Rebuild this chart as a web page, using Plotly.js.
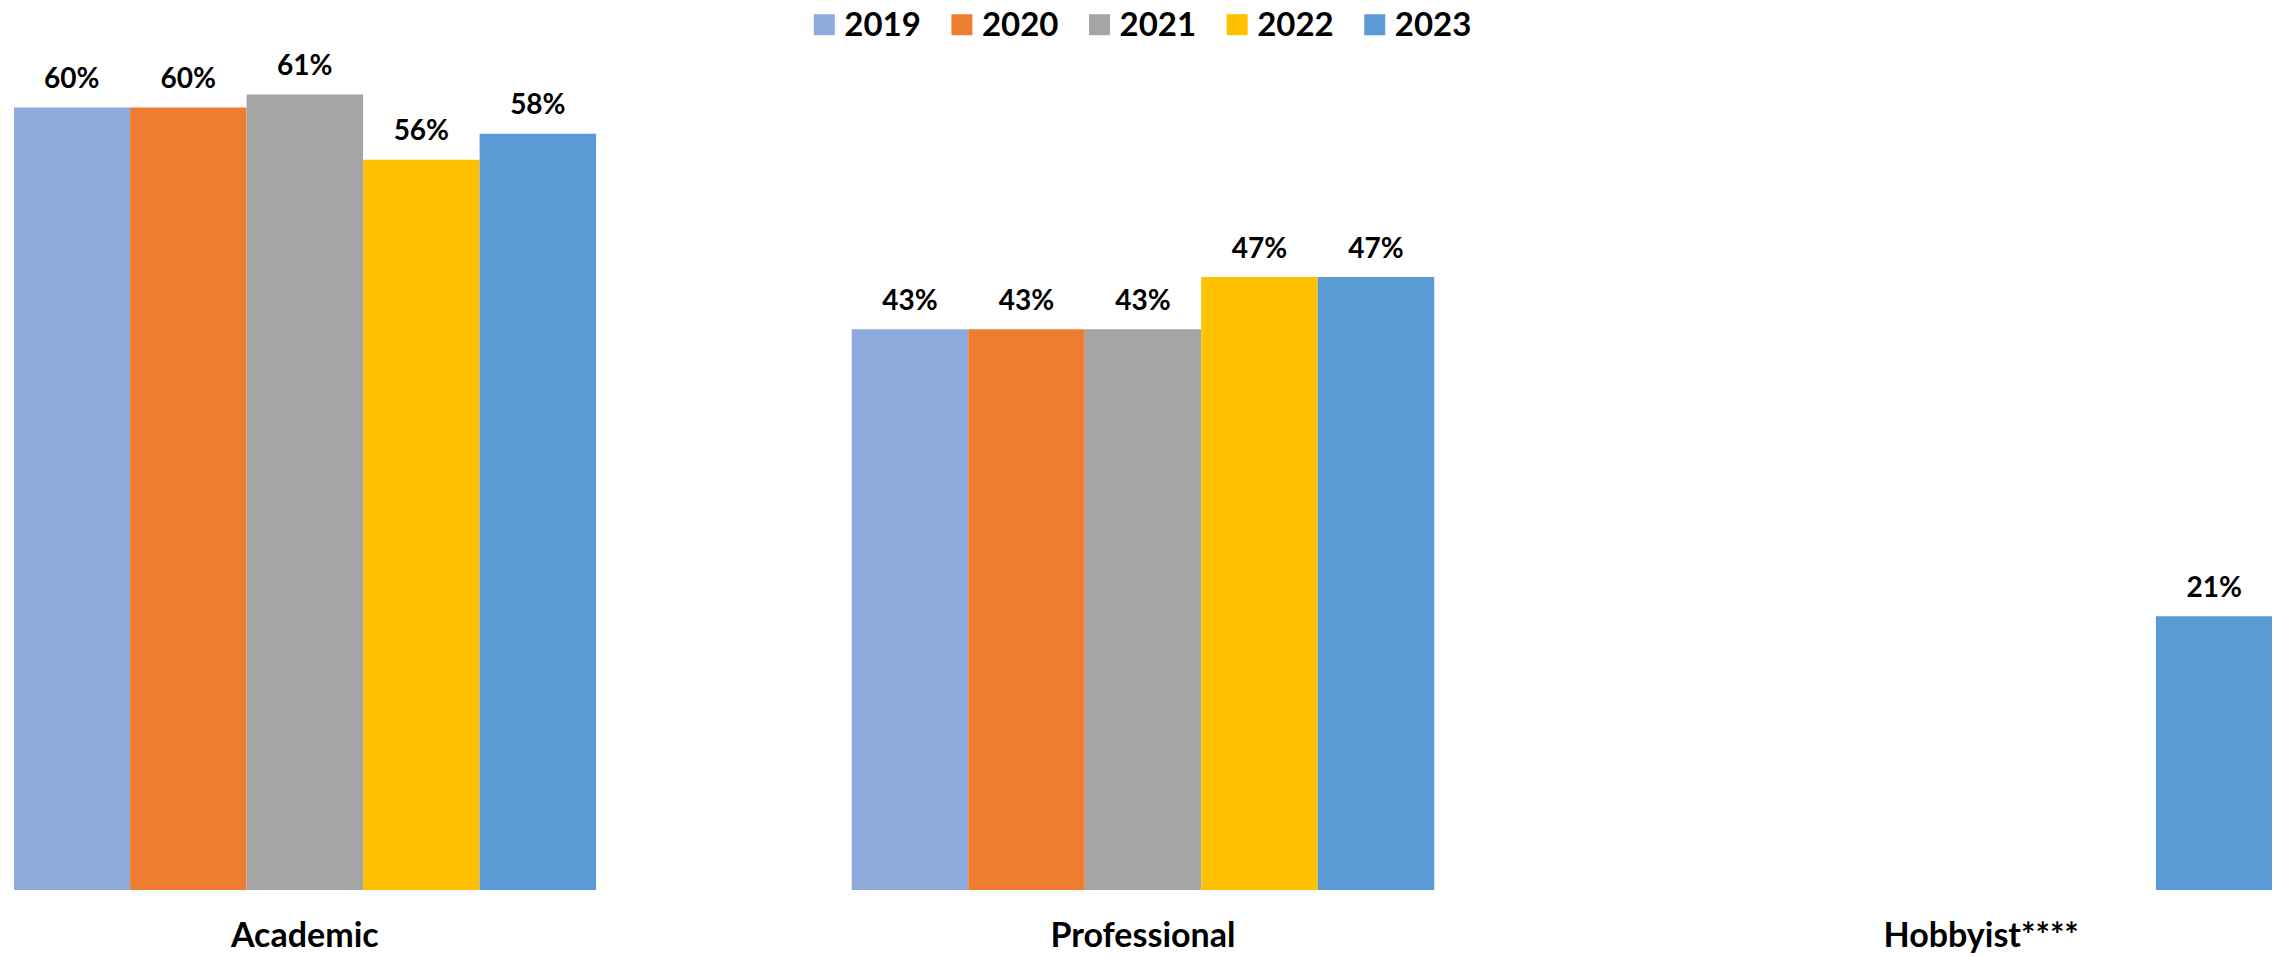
<!DOCTYPE html>
<html>
<head>
<meta charset="utf-8">
<script src="https://cdn.plot.ly/plotly-3.0.1.min.js"></script>
<style>
html,body{margin:0;padding:0;background:#fff;}
#chart{width:2280px;height:957px;}
#chart g.legendpoints path{transform:translate(20px,0px) scale(1.75);}
</style>
</head>
<body>
<div id="chart"></div>
<script>
const categories = ["Academic", "Professional", "Hobbyist****"];
const years = ["2019", "2020", "2021", "2022", "2023"];
const values2019 = [60, 43, null];
const values2020 = [60, 43, null];
const values2021 = [61, 43, null];
const values2022 = [56, 47, null];
const values2023 = [58, 47, 21];
const colors = ["#8FAADC", "#ED7D31", "#A5A5A5", "#FFC000", "#5B9BD5"];

const series = [values2019, values2020, values2021, values2022, values2023];
const FONT = "Lato, 'Open Sans', sans-serif";

function label(v) {
  if (v == null) return "";
  return "<span style='font-size:28px'>" + v + "%</span><br>\u00a0";
}

const traces = series.map((vals, i) => ({
  type: "bar",
  name: "<span style='font-size:33px'>" + years[i] + "\u00a0\u00a0</span>",
  x: categories,
  y: vals,
  text: vals.map(label),
  textposition: "outside",
  constraintext: "none",
  cliponaxis: false,
  textfont: {family: FONT, size: 11, color: "#000", weight: "bold"},
  marker: {color: colors[i], line: {width: 0}},
  hoverinfo: "skip"
}));

const layout = {
  width: 2280,
  height: 957,
  margin: {l: 14, r: 8, t: 0, b: 67},
  paper_bgcolor: "#fff",
  plot_bgcolor: "#fff",
  barmode: "group",
  bargap: 0.305,
  bargroupgap: 0,
  showlegend: true,
  legend: {
    orientation: "h",
    x: 0.350, xanchor: "left",
    y: 1, yanchor: "top",
    bgcolor: "rgba(0,0,0,0)",
    font: {family: FONT, size: 28, color: "#000", weight: "bold"},
    traceorder: "normal"
  },
  xaxis: {
    range: [-0.347, 2.347],
    showgrid: false,
    zeroline: false,
    showline: false,
    ticks: "",
    ticklabelstandoff: 22,
    tickfont: {family: FONT, size: 34, color: "#000", weight: "bold"}
  },
  yaxis: {
    range: [0, 68.25],
    visible: false,
    showgrid: false,
    zeroline: false
  }
};

Plotly.newPlot("chart", traces, layout, {displayModeBar: false, staticPlot: true});
</script>
</body>
</html>
